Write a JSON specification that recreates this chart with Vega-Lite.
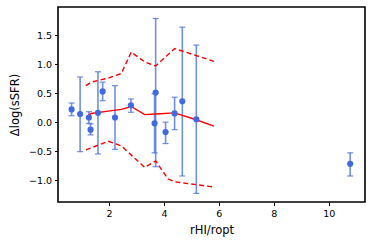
{
  "$schema": "https://vega.github.io/schema/vega-lite/v6.json",
  "width": 307,
  "height": 195,
  "autosize": {"type": "none"},
  "padding": {"left": 58, "top": 7, "right": 9, "bottom": 47},
  "config": {
    "font": "DejaVu Sans",
    "view": {"stroke": "#000000", "strokeWidth": 1.6},
    "axis": {
      "domain": false,
      "grid": false,
      "ticks": true,
      "tickColor": "#000000",
      "tickSize": 3.5,
      "tickWidth": 1,
      "labelOverlap": false,
      "labelFlush": false,
      "labelFont": "DejaVu Sans",
      "labelFontSize": 9.5,
      "labelColor": "#000000",
      "titleFont": "DejaVu Sans",
      "titleFontSize": 11.5,
      "titleFontWeight": "normal",
      "titleColor": "#000000"
    }
  },
  "datasets": {
    "pts": [
      {"x": 0.64, "y": 0.22, "lo": 0.11, "hi": 0.33},
      {"x": 0.95, "y": 0.14, "lo": -0.51, "hi": 0.78},
      {"x": 1.27, "y": 0.08, "lo": -0.02, "hi": 0.18},
      {"x": 1.33, "y": -0.13, "lo": -0.22, "hi": -0.03},
      {"x": 1.60, "y": 0.16, "lo": -0.55, "hi": 0.87},
      {"x": 1.77, "y": 0.53, "lo": 0.37, "hi": 0.69},
      {"x": 2.22, "y": 0.08, "lo": -0.47, "hi": 0.63},
      {"x": 2.80, "y": 0.29, "lo": 0.17, "hi": 0.40},
      {"x": 3.70, "y": 0.51, "lo": -0.77, "hi": 1.79},
      {"x": 3.66, "y": -0.02, "lo": -0.53, "hi": 0.49},
      {"x": 4.06, "y": -0.17, "lo": -0.37, "hi": 0.0},
      {"x": 4.39, "y": 0.15, "lo": -0.13, "hi": 0.43},
      {"x": 4.67, "y": 0.36, "lo": -0.93, "hi": 1.64},
      {"x": 5.18, "y": 0.05, "lo": -1.23, "hi": 1.33},
      {"x": 10.78, "y": -0.72, "lo": -0.93, "hi": -0.53}
    ],
    "med": [
      {"x": 1.16, "y": 0.08},
      {"x": 1.35, "y": 0.15},
      {"x": 1.97, "y": 0.19},
      {"x": 2.45, "y": 0.22},
      {"x": 2.81, "y": 0.27},
      {"x": 3.30, "y": 0.13},
      {"x": 3.70, "y": 0.14},
      {"x": 4.39, "y": 0.16},
      {"x": 5.12, "y": 0.05},
      {"x": 5.82, "y": -0.07}
    ],
    "up": [
      {"x": 1.16, "y": 0.63},
      {"x": 1.35, "y": 0.69},
      {"x": 1.97, "y": 0.76},
      {"x": 2.45, "y": 0.84},
      {"x": 2.81, "y": 1.21},
      {"x": 3.30, "y": 1.04},
      {"x": 3.70, "y": 0.97},
      {"x": 4.39, "y": 1.27},
      {"x": 5.82, "y": 1.05}
    ],
    "lowr": [
      {"x": 1.16, "y": -0.48},
      {"x": 1.97, "y": -0.33},
      {"x": 2.45, "y": -0.41},
      {"x": 3.30, "y": -0.78},
      {"x": 3.70, "y": -0.67},
      {"x": 4.15, "y": -0.98},
      {"x": 4.39, "y": -1.03},
      {"x": 5.82, "y": -1.12}
    ]
  },
  "encoding": {
    "x": {"type": "quantitative", "scale": {"domain": [0.145, 11.32], "nice": false, "zero": false}, "title": "rHI/ropt",
      "axis": {"values": [2, 4, 6, 8, 10], "format": "d", "titlePadding": 6, "labelPadding": 3}},
    "y": {"type": "quantitative", "scale": {"domain": [-1.379, 1.988], "nice": false, "zero": false}, "title": "Δlog(sSFR)",
      "axis": {"values": [-1, -0.5, 0, 0.5, 1, 1.5], "format": ".1f", "titlePadding": 8, "labelPadding": 3}}
  },
  "layer": [
    {
      "data": {"name": "pts"},
      "mark": {"type": "rule", "color": "#4169E1", "strokeWidth": 1.6, "opacity": 0.75},
      "encoding": {
        "x": {"field": "x"},
        "y": {"field": "lo"},
        "y2": {"field": "hi"}
      }
    },
    {
      "data": {"name": "pts"},
      "mark": {"type": "tick", "orient": "horizontal", "color": "#4169E1", "size": 6, "thickness": 1.2, "opacity": 0.75},
      "encoding": {
        "x": {"field": "x"},
        "y": {"field": "lo"}
      }
    },
    {
      "data": {"name": "pts"},
      "mark": {"type": "tick", "orient": "horizontal", "color": "#4169E1", "size": 6, "thickness": 1.2, "opacity": 0.75},
      "encoding": {
        "x": {"field": "x"},
        "y": {"field": "hi"}
      }
    },
    {
      "mark": {"type": "rule", "color": "#808080", "strokeWidth": 1.6, "strokeDash": [3, 2]},
      "encoding": {"x": null, "y": {"datum": 0}}
    },
    {
      "data": {"name": "med"},
      "mark": {"type": "line", "color": "#ff0000", "strokeWidth": 1.4},
      "encoding": {
        "x": {"field": "x"},
        "y": {"field": "y"}
      }
    },
    {
      "data": {"name": "up"},
      "mark": {"type": "line", "color": "#ff0000", "strokeWidth": 1.4, "strokeDash": [5, 3]},
      "encoding": {
        "x": {"field": "x"},
        "y": {"field": "y"}
      }
    },
    {
      "data": {"name": "lowr"},
      "mark": {"type": "line", "color": "#ff0000", "strokeWidth": 1.4, "strokeDash": [5, 3]},
      "encoding": {
        "x": {"field": "x"},
        "y": {"field": "y"}
      }
    },
    {
      "data": {"name": "pts"},
      "mark": {"type": "circle", "color": "#4169E1", "opacity": 1, "size": 38},
      "encoding": {
        "x": {"field": "x"},
        "y": {"field": "y"}
      }
    }
  ]
}
